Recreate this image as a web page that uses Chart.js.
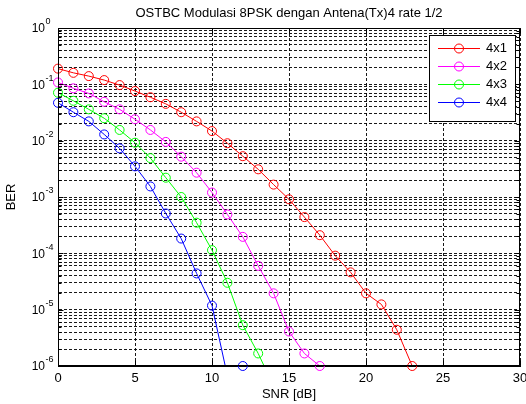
<!DOCTYPE html>
<html>
<head>
<meta charset="utf-8">
<script src="https://cdn.jsdelivr.net/npm/chart.js@4/dist/chart.umd.min.js"></script>
<style>
body { margin: 0; background: #fff; }
</style>
</head>
<body>
<canvas id="berChart" width="526" height="404"></canvas>
<script>
// SNR points (dB) and BER
const snr = [0, 1, 2, 3, 4, 5, 6, 7, 8, 9, 10, 11, 12, 13, 14, 15, 16, 17, 18, 19, 20, 21, 22, 23];
const ber4x1 = [0.19, 0.16, 0.14, 0.119, 0.097, 0.076, 0.059, 0.045, 0.032, 0.022, 0.0148, 0.009,
                0.0053, 0.0031, 0.00166, 9.1e-4, 4.4e-4, 2.1e-4, 9.1e-5, 4.6e-5, 1.95e-5, 1.24e-5, 4.4e-6, 1e-6];
const ber4x2 = [0.108, 0.085, 0.069, 0.049, 0.036, 0.024, 0.0155, 0.0095, 0.0052, 0.0027, 0.0012, 4.9e-4,
                1.96e-4, 6e-5, 1.95e-5, 4.1e-6, 1.67e-6, 1e-6];
const ber4x3 = [0.071, 0.051, 0.036, 0.025, 0.0155, 0.0092, 0.0049, 0.0022, 1.0e-3, 3.5e-4, 1.14e-4, 3.0e-5,
                5.3e-6, 1.67e-6, 4.4e-7];
const ber4x4 = [0.047, 0.032, 0.022, 0.0129, 0.0073, 0.0035, 0.00154, 5.1e-4, 1.83e-4, 4.4e-5, 1.18e-5, 6.7e-7, 1e-6];

const seriesNames = ["4x1", "4x2", "4x3", "4x4"];
const seriesColors = ["#ff0000", "#ff00ff", "#00ff00", "#0000ff"];
const xTicks = [0, 5, 10, 15, 20, 25, 30];
const yDecades = [1e-6, 1e-5, 1e-4, 1e-3, 1e-2, 1e-1, 1];
const yMinorSteps = [2, 3, 4, 5, 6, 7, 8, 9];

const FONT = "'Liberation Sans', Arial, Helvetica, sans-serif";
Chart.defaults.font.family = FONT;
Chart.defaults.color = "#000";

const yMin = yDecades[0];
const yMax = yDecades[yDecades.length - 1];

// every grid line of the log axis: decades plus 2..9 inside each decade
const yGrid = [];
yDecades.forEach((d, i) => {
    yGrid.push(d);
    if (i < yDecades.length - 1) yMinorSteps.forEach(m => yGrid.push(d * m));
});

function toPoints(vals) {
    return vals.map((v, i) => ({ x: snr[i], y: v }));
}

const datasets = [];
[ber4x1, ber4x2, ber4x3, ber4x4].forEach((vals, k) => {
    // the line, clipped to the axes
    datasets.push({
        label: seriesNames[k],
        data: toPoints(vals),
        borderColor: seriesColors[k],
        borderWidth: 1,
        pointRadius: 0,
        fill: false,
        tension: 0
    });
    // the circle markers, not clipped (MATLAB shows them whole on the axis)
    datasets.push({
        label: seriesNames[k] + " markers",
        isMarker: true,
        data: toPoints(vals),
        showLine: false,
        clip: false,
        borderColor: seriesColors[k],
        backgroundColor: "transparent",
        pointBorderWidth: 1,
        pointRadius: ctx => (ctx.raw && ctx.raw.y >= yMin ? 4.5 : 0)
    });
});

const matlabLook = {
    id: "matlabLook",
    afterDatasetsDraw(chart) {
        const { ctx, chartArea: a, scales } = chart;
        const L = Math.round(a.left) + 0.5, R = Math.round(a.right) - 0.5;
        const T = Math.round(a.top) + 0.5, B = Math.round(a.bottom) - 0.5;
        ctx.save();

        // box round the axes
        ctx.strokeStyle = "#000";
        ctx.lineWidth = 1;
        ctx.strokeRect(L, T, R - L, B - T);

        // inward tick marks on all four sides
        ctx.beginPath();
        yGrid.forEach(v => {
            const py = Math.round(scales.y.getPixelForValue(v)) + 0.5;
            const len = yDecades.includes(v) ? 5 : 3;
            ctx.moveTo(L, py); ctx.lineTo(L + len, py);
            ctx.moveTo(R, py); ctx.lineTo(R - len, py);
        });
        xTicks.forEach(v => {
            const px = Math.round(scales.x.getPixelForValue(v)) + 0.5;
            ctx.moveTo(px, B); ctx.lineTo(px, B - 5);
            ctx.moveTo(px, T); ctx.lineTo(px, T + 5);
        });
        ctx.stroke();

        // y tick labels as 10^n
        ctx.fillStyle = "#000";
        yDecades.forEach(d => {
            const py = scales.y.getPixelForValue(d);
            const ex = Math.round(Math.log10(d));
            ctx.font = "12px " + FONT;
            ctx.textAlign = "right";
            ctx.textBaseline = "middle";
            ctx.fillText("10", 45, py + 1);
            ctx.font = "9px " + FONT;
            ctx.textAlign = "left";
            ctx.fillText(String(ex), 45.5, py - 6);
        });

        // legend inside the axes, top right
        const items = chart.data.datasets.filter(d => !d.isMarker);
        const bx = 429, by = 35, bw = 87, bh = 87;
        ctx.fillStyle = "#fff";
        ctx.fillRect(bx, by, bw, bh);
        ctx.strokeStyle = "#000";
        ctx.strokeRect(bx + 0.5, by + 0.5, bw - 1, bh - 1);
        items.forEach((ds, i) => {
            const cy = Math.round(47.5 + i * 18.2) + 0.5;
            ctx.strokeStyle = ds.borderColor;
            ctx.lineWidth = 1;
            ctx.beginPath();
            ctx.moveTo(438, cy);
            ctx.lineTo(480, cy);
            ctx.stroke();
            ctx.beginPath();
            ctx.arc(459, cy, 4.5, 0, Math.PI * 2);
            ctx.stroke();
            ctx.fillStyle = "#000";
            ctx.font = "13px " + FONT;
            ctx.textAlign = "left";
            ctx.textBaseline = "middle";
            ctx.fillText(ds.label, 486, cy);
        });

        ctx.restore();
    }
};

new Chart(document.getElementById("berChart"), {
    type: "line",
    data: { datasets: datasets },
    options: {
        responsive: false,
        animation: false,
        events: [],
        layout: { padding: { top: 0, right: 6, left: 0, bottom: 0 } },
        plugins: {
            legend: { display: false },
            tooltip: { enabled: false },
            title: {
                display: true,
                text: "OSTBC Modulasi 8PSK dengan Antena(Tx)4 rate 1/2",
                fullSize: false,
                font: { size: 13, weight: "normal" },
                color: "#000",
                padding: { top: 6, bottom: 6.4 }
            }
        },
        scales: {
            x: {
                type: "linear",
                min: 0,
                max: 30,
                afterBuildTicks: s => { s.ticks = xTicks.map(v => ({ value: v })); },
                afterFit: s => { s.height = 38; s.paddingLeft = 0; s.paddingRight = 0; },
                ticks: { font: { size: 13 }, padding: 5, maxRotation: 0 },
                grid: { color: "rgba(0,0,0,0.9)", lineWidth: 1, drawTicks: false },
                border: { display: true, color: "#000", dash: [3, 2] },
                title: { display: true, text: "SNR [dB]", font: { size: 13 }, padding: { top: 0, bottom: 2 } }
            },
            y: {
                type: "logarithmic",
                min: yMin,
                max: yMax,
                afterBuildTicks: s => { s.ticks = yGrid.map(v => ({ value: v })); },
                afterFit: s => { s.width = 58; s.paddingTop = 0; s.paddingBottom = 0; },
                ticks: { display: false },
                grid: { color: "rgba(0,0,0,0.9)", lineWidth: 1, drawTicks: false },
                border: { display: true, color: "#000", dash: [3, 2] },
                title: { display: true, text: "BER", font: { size: 13 }, padding: { top: 4, bottom: 0 } }
            }
        }
    },
    plugins: [matlabLook]
});
</script>
</body>
</html>
